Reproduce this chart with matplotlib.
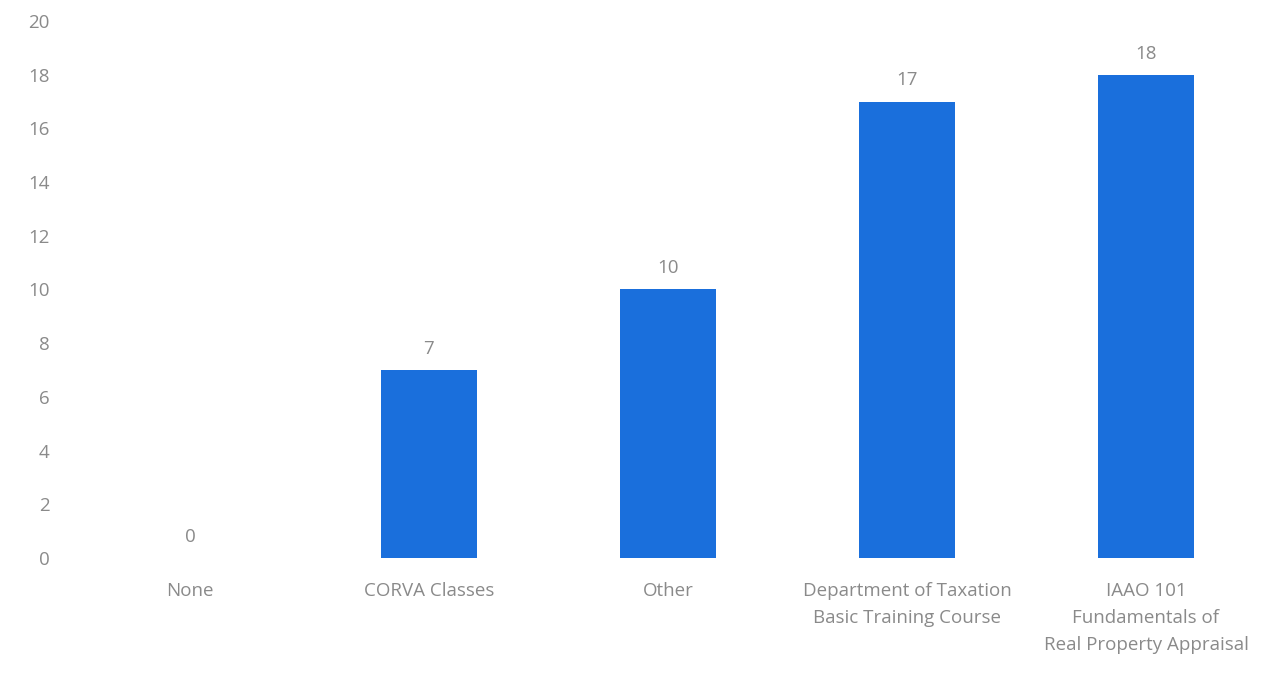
import matplotlib
matplotlib.use("Agg")
import matplotlib.pyplot as plt

categories = ["None", "CORVA Classes", "Other",
              "Department of Taxation\nBasic Training Course",
              "IAAO 101\nFundamentals of\nReal Property Appraisal"]
counts = [0, 7, 10, 17, 18]
y_ticks = [0, 2, 4, 6, 8, 10, 12, 14, 16, 18, 20]

plt.rcParams['font.family'] = ['Open Sans', 'DejaVu Sans']
grey = "#8a8a8a"

fig = plt.figure(figsize=(12.67, 6.73), dpi=100)
ax = fig.add_axes([0.0556, 0.1709, 0.9432, 0.7979])

x = list(range(len(categories)))
bars = ax.bar(x, counts, width=0.40, color="#1a6fdc")

# value labels above each bar
for xi, v in zip(x, counts):
    ax.text(xi, v + 0.45, str(v), ha="center", va="bottom", color=grey, fontsize=13.5)

ax.set_xlim(-0.5, len(categories) - 0.5)
ax.set_ylim(0, 20)
ax.set_yticks(y_ticks)
ax.set_yticklabels([str(t) for t in y_ticks])
ax.set_xticks(x)
ax.set_xticklabels(categories, linespacing=1.67)
ax.tick_params(axis="both", length=0, colors=grey, labelsize=13.5)
ax.tick_params(axis="y", pad=15)
ax.tick_params(axis="x", pad=17)
for s in ax.spines.values():
    s.set_visible(False)

plt.savefig("out.png", dpi=100)
